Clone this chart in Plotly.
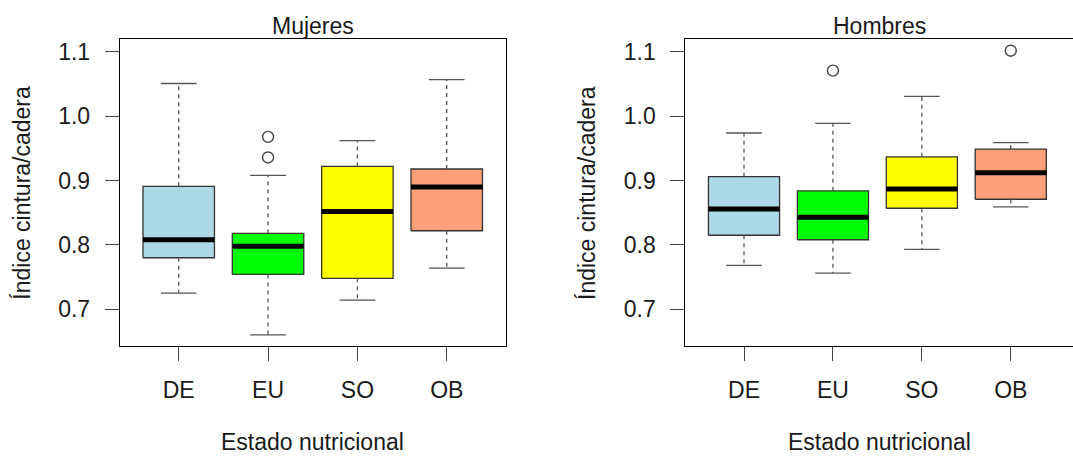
import plotly.graph_objects as go

# Estado nutricional categories and box colours
categories = ["DE", "EU", "SO", "OB"]
fill_colors = ["#ADD8E6", "#00FF00", "#FFFF00", "#FFA07A"]

# Mujeres: five-number summaries and outliers
mujeres_low = [0.725, 0.660, 0.714, 0.764]
mujeres_q1 = [0.780, 0.754, 0.748, 0.822]
mujeres_med = [0.808, 0.798, 0.852, 0.890]
mujeres_q3 = [0.891, 0.818, 0.922, 0.918]
mujeres_high = [1.051, 0.908, 0.962, 1.057]
mujeres_out = [[], [0.968, 0.936], [], []]

# Hombres: five-number summaries and outliers
hombres_low = [0.768, 0.756, 0.793, 0.859]
hombres_q1 = [0.815, 0.808, 0.857, 0.871]
hombres_med = [0.856, 0.843, 0.887, 0.912]
hombres_q3 = [0.906, 0.884, 0.937, 0.949]
hombres_high = [0.974, 0.989, 1.031, 0.959]
hombres_out = [[], [1.071], [], [1.102]]

y_ticks = [0.7, 0.8, 0.9, 1.0, 1.1]

FONT = "Liberation Sans, Arial, sans-serif"
TEXT = "#1a1a1a"
FS = 23
BOX_HALF = 0.4      # half box width in category units
CAP_HALF = 0.2      # half staple width
BORDER = "#333333"
WHISK = "#555555"

fig = go.Figure()


def add_panel(xa, ya, low, q1, med, q3, high, outs):
    for i, cat in enumerate(categories):
        c = i + 1
        # box body
        fig.add_trace(go.Scatter(
            x=[c - BOX_HALF, c + BOX_HALF, c + BOX_HALF, c - BOX_HALF, c - BOX_HALF],
            y=[q1[i], q1[i], q3[i], q3[i], q1[i]],
            mode="lines", fill="toself", fillcolor=fill_colors[i],
            line=dict(color=BORDER, width=1.3),
            xaxis=xa, yaxis=ya, showlegend=False, hoverinfo="skip"))
        # dashed whiskers
        for a, b in ((q3[i], high[i]), (q1[i], low[i])):
            fig.add_trace(go.Scatter(
                x=[c, c], y=[a, b], mode="lines",
                line=dict(color=WHISK, width=1.3, dash="4px,4px"),
                xaxis=xa, yaxis=ya, showlegend=False, hoverinfo="skip"))
        # staples
        for v in (high[i], low[i]):
            fig.add_trace(go.Scatter(
                x=[c - CAP_HALF, c + CAP_HALF], y=[v, v], mode="lines",
                line=dict(color=WHISK, width=1.3),
                xaxis=xa, yaxis=ya, showlegend=False, hoverinfo="skip"))
        # median
        fig.add_trace(go.Scatter(
            x=[c - BOX_HALF, c + BOX_HALF], y=[med[i], med[i]], mode="lines",
            line=dict(color="black", width=5),
            xaxis=xa, yaxis=ya, showlegend=False, hoverinfo="skip"))
        # outliers
        if outs[i]:
            fig.add_trace(go.Scatter(
                x=[c] * len(outs[i]), y=outs[i], mode="markers",
                marker=dict(symbol="circle-open", size=11,
                            color="#444444", line=dict(width=1.4)),
                xaxis=xa, yaxis=ya, showlegend=False, hoverinfo="skip"))


add_panel("x", "y", mujeres_low, mujeres_q1, mujeres_med, mujeres_q3,
          mujeres_high, mujeres_out)
add_panel("x2", "y2", hombres_low, hombres_q1, hombres_med, hombres_q3,
          hombres_high, hombres_out)

# shared y limits with a 4% pad around all plotted values
all_vals = (mujeres_low + mujeres_high + hombres_low + hombres_high
            + [v for o in mujeres_out + hombres_out for v in o])
lo, hi = min(all_vals), max(all_vals)
pad = 0.04 * (hi - lo)
y_range = [lo - pad, hi + pad]

tickfont = dict(family=FONT, size=FS, color=TEXT)
common_x = dict(tickmode="array", tickvals=[1, 2, 3, 4], ticktext=categories,
                ticks="outside", ticklen=14, tickcolor="#444444", tickwidth=1,
                showgrid=False, zeroline=False, showline=True,
                linecolor="black", linewidth=1, mirror=True,
                tickfont=tickfont, ticklabelstandoff=9, fixedrange=True)
common_y = dict(tickmode="array", tickvals=y_ticks,
                ticktext=[f"{v:.1f}" for v in y_ticks],
                ticks="outside", ticklen=14, tickcolor="#444444", tickwidth=1,
                showgrid=False, zeroline=False, showline=True,
                linecolor="black", linewidth=1, range=y_range,
                tickfont=tickfont, ticklabelstandoff=10, fixedrange=True)

fig.update_layout(
    width=1073, height=456,
    margin=dict(l=0, r=0, t=0, b=0),
    paper_bgcolor="white", plot_bgcolor="white",
    font=dict(family=FONT, color=TEXT),
    xaxis=dict(domain=[0.1116, 0.4713], range=[0.34, 4.66], anchor="y", **common_x),
    yaxis=dict(domain=[0.2406, 0.9138], anchor="x", mirror=True, **common_y),
    xaxis2=dict(domain=[0.6387, 1.0], range=[0.34, 4.70], anchor="y2", **common_x),
    yaxis2=dict(domain=[0.2406, 0.9138], anchor="x2", mirror=False, **common_y),
)

ann_font = dict(family=FONT, size=FS, color=TEXT)
titles = [("Mujeres", 0.2914), ("Hombres", 0.8196)]
for text, xc in titles:
    fig.add_annotation(text=text, x=xc, y=1 - 26 / 456, xref="paper", yref="paper",
                       showarrow=False, font=ann_font, xanchor="center", yanchor="middle")
for xc in (0.2914, 0.8196):
    fig.add_annotation(text="Estado nutricional", x=xc, y=0,
                       xref="paper", yref="paper", showarrow=False, font=ann_font,
                       xanchor="center", yanchor="bottom", borderpad=0)
for xl in (21.7, 587.0):
    fig.add_annotation(text="Índice cintura/cadera", x=xl / 1073, y=1 - 193 / 456,
                       xref="paper", yref="paper", showarrow=False, font=ann_font,
                       textangle=-90, xanchor="center", yanchor="middle")

fig.write_html("out.html")
